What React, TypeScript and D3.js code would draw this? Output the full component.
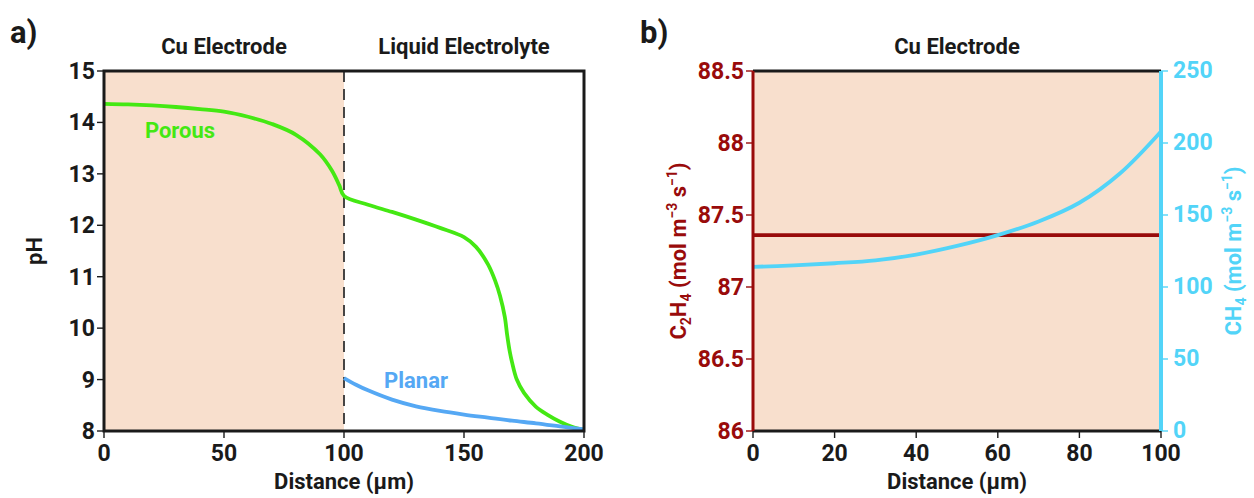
import React from 'react';
import * as d3 from 'd3';

// panel a: pH profiles
const porousX = [0, 10, 20, 30, 40, 50, 60, 70, 80, 90, 95, 98, 100, 110, 120, 130, 140, 150, 155, 160, 163, 165, 167, 168, 169, 170, 172, 175, 180, 185, 190, 195, 200];
const porousY = [14.36, 14.35, 14.33, 14.3, 14.26, 14.21, 14.11, 13.97, 13.76, 13.38, 13.06, 12.78, 12.57, 12.4, 12.26, 12.11, 11.95, 11.77, 11.58, 11.24, 10.92, 10.63, 10.22, 9.86, 9.56, 9.34, 9.0, 8.74, 8.47, 8.31, 8.18, 8.08, 8.02];
const planarX = [100, 105, 110, 120, 130, 140, 150, 160, 170, 180, 190, 200];
const planarY = [9.03, 8.9, 8.79, 8.61, 8.48, 8.39, 8.32, 8.26, 8.2, 8.15, 8.09, 8.03];
const phTicks = [8, 9, 10, 11, 12, 13, 14, 15];
const distTicksA = [0, 50, 100, 150, 200];

// panel b: production rates
const rateX = [0, 10, 20, 30, 40, 50, 60, 70, 80, 90, 100];
const ch4 = [114, 115, 116.5, 118.5, 122.5, 128.5, 136, 145.5, 158.5, 179, 208];
const c2h4 = [87.36, 87.36, 87.36, 87.36, 87.36, 87.36, 87.36, 87.36, 87.36, 87.36, 87.36];
const c2h4Ticks = [86, 86.5, 87, 87.5, 88, 88.5];
const ch4Ticks = [0, 50, 100, 150, 200, 250];
const distTicksB = [0, 20, 40, 60, 80, 100];

const FONT = 'Roboto, "Open Sans", sans-serif';
const INK = '#1a1a1a';
const SHADE = '#f8dfcd';
const GREEN = '#44e813';
const BLUE = '#55a8f4';
const RED = '#990b0b';
const CYAN = '#52d4f8';

const App = () => {
  const top = 71, bottom = 431;

  const xA = d3.scaleLinear().domain([0, 200]).range([104, 584]);
  const yA = d3.scaleLinear().domain([8, 15]).range([bottom, top]);

  const xB = d3.scaleLinear().domain([0, 100]).range([753, 1161]);
  const yL = d3.scaleLinear().domain([86, 88.5]).range([bottom, top]);
  const yR = d3.scaleLinear().domain([0, 250]).range([bottom, top]);

  const smooth = d3.line<number>().curve(d3.curveCatmullRom.alpha(0.5));
  const porousPath = smooth(porousX.map((d, i) => [xA(d), yA(porousY[i])]) as any);
  const planarPath = smooth(planarX.map((d, i) => [xA(d), yA(planarY[i])]) as any);
  const ch4Path = smooth(rateX.map((d, i) => [xB(d), yR(ch4[i])]) as any);
  const c2h4Path = smooth(rateX.map((d, i) => [xB(d), yL(c2h4[i])]) as any);

  const tickStyle = { fontFamily: FONT, fontWeight: 700, fontSize: 23 } as const;
  const titleStyle = { ...tickStyle, fontSize: 22 } as const;

  return (
    <svg width={1254} height={498} style={{ position: 'absolute', left: 0, top: 0, background: '#fff' }}>
      {/* panel letters */}
      <text x={10} y={43} style={{ ...tickStyle, fontSize: 31 }} fill={INK}>a)</text>
      <text x={640} y={43} style={{ ...tickStyle, fontSize: 31 }} fill={INK}>b)</text>

      {/* ---------- panel a ---------- */}
      <rect x={xA(0)} y={top} width={xA(100) - xA(0)} height={bottom - top} fill={SHADE} />
      <text x={(xA(0) + xA(100)) / 2} y={54} textAnchor="middle" style={titleStyle} fill={INK}>Cu Electrode</text>
      <text x={(xA(100) + xA(200)) / 2} y={54} textAnchor="middle" style={titleStyle} fill={INK}>Liquid Electrolyte</text>

      <line x1={xA(100)} x2={xA(100)} y1={top} y2={bottom} stroke="#333" strokeWidth={1.8} strokeDasharray="11,7" />

      <path d={porousPath || ''} fill="none" stroke={GREEN} strokeWidth={3.8} />
      <path d={planarPath || ''} fill="none" stroke={BLUE} strokeWidth={3.8} />
      <text x={180} y={138} textAnchor="middle" style={titleStyle} fill={GREEN}>Porous</text>
      <text x={416} y={388} textAnchor="middle" style={titleStyle} fill={BLUE}>Planar</text>

      <rect x={xA(0)} y={top} width={xA(200) - xA(0)} height={bottom - top} fill="none" stroke={INK} strokeWidth={3} />

      {phTicks.map(t => (
        <g key={'pa' + t}>
          <line x1={xA(0) - 7} x2={xA(0)} y1={yA(t)} y2={yA(t)} stroke={INK} strokeWidth={1.4} />
          <text x={xA(0) - 9} y={yA(t) + 8} textAnchor="end" style={tickStyle} fill={INK}>{t}</text>
        </g>
      ))}
      {distTicksA.map(t => (
        <g key={'da' + t}>
          <line x1={xA(t)} x2={xA(t)} y1={bottom} y2={bottom + 7} stroke={INK} strokeWidth={1.4} />
          <text x={xA(t)} y={bottom + 30} textAnchor="middle" style={tickStyle} fill={INK}>{t}</text>
        </g>
      ))}
      <text x={(xA(0) + xA(200)) / 2} y={489} textAnchor="middle" style={titleStyle} fill={INK}>Distance (µm)</text>
      <text transform={`translate(42,${(top + bottom) / 2}) rotate(-90)`} textAnchor="middle" style={titleStyle} fill={INK}>pH</text>

      {/* ---------- panel b ---------- */}
      <rect x={xB(0)} y={top} width={xB(100) - xB(0)} height={bottom - top} fill={SHADE} />
      <text x={(xB(0) + xB(100)) / 2} y={54} textAnchor="middle" style={titleStyle} fill={INK}>Cu Electrode</text>

      <path d={c2h4Path || ''} fill="none" stroke={RED} strokeWidth={3.8} />
      <path d={ch4Path || ''} fill="none" stroke={CYAN} strokeWidth={3.8} />

      <line x1={xB(0)} x2={xB(100)} y1={top} y2={top} stroke={INK} strokeWidth={3} />
      <line x1={xB(0)} x2={xB(100)} y1={bottom} y2={bottom} stroke={INK} strokeWidth={3} />
      <line x1={xB(0)} x2={xB(0)} y1={top} y2={bottom} stroke={RED} strokeWidth={3} />
      <line x1={xB(100)} x2={xB(100)} y1={top} y2={bottom} stroke={CYAN} strokeWidth={4} />

      {c2h4Ticks.map(t => (
        <g key={'cl' + t}>
          <line x1={xB(0) - 7} x2={xB(0)} y1={yL(t)} y2={yL(t)} stroke={RED} strokeWidth={1.4} />
          <text x={xB(0) - 9} y={yL(t) + 8} textAnchor="end" style={tickStyle} fill={RED}>{t}</text>
        </g>
      ))}
      {ch4Ticks.map(t => (
        <g key={'cr' + t}>
          <line x1={xB(100)} x2={xB(100) + 7} y1={yR(t)} y2={yR(t)} stroke={CYAN} strokeWidth={1.4} />
          <text x={xB(100) + 12} y={yR(t) + 7} textAnchor="start" style={tickStyle} fill={CYAN}>{t}</text>
        </g>
      ))}
      {distTicksB.map(t => (
        <g key={'db' + t}>
          <line x1={xB(t)} x2={xB(t)} y1={bottom} y2={bottom + 7} stroke={INK} strokeWidth={1.4} />
          <text x={xB(t)} y={bottom + 30} textAnchor="middle" style={tickStyle} fill={INK}>{t}</text>
        </g>
      ))}
      <text x={(xB(0) + xB(100)) / 2} y={489} textAnchor="middle" style={titleStyle} fill={INK}>Distance (µm)</text>

      <text transform={`translate(686,${(top + bottom) / 2}) rotate(-90)`} textAnchor="middle" style={titleStyle} fill={RED}>
        C<tspan fontSize={14} dy={5}>2</tspan><tspan dy={-5}>H</tspan><tspan fontSize={14} dy={5}>4</tspan><tspan dy={-5}> (mol m</tspan><tspan fontSize={14} dy={-9}>−3</tspan><tspan dy={9}> s</tspan><tspan fontSize={14} dy={-9}>−1</tspan><tspan dy={9}>)</tspan>
      </text>
      <text transform={`translate(1241,${(top + bottom) / 2}) rotate(-90)`} textAnchor="middle" style={titleStyle} fill={CYAN}>
        CH<tspan fontSize={14} dy={5}>4</tspan><tspan dy={-5}> (mol m</tspan><tspan fontSize={14} dy={-9}>−3</tspan><tspan dy={9}> s</tspan><tspan fontSize={14} dy={-9}>−1</tspan><tspan dy={9}>)</tspan>
      </text>
    </svg>
  );
};

export default App;
